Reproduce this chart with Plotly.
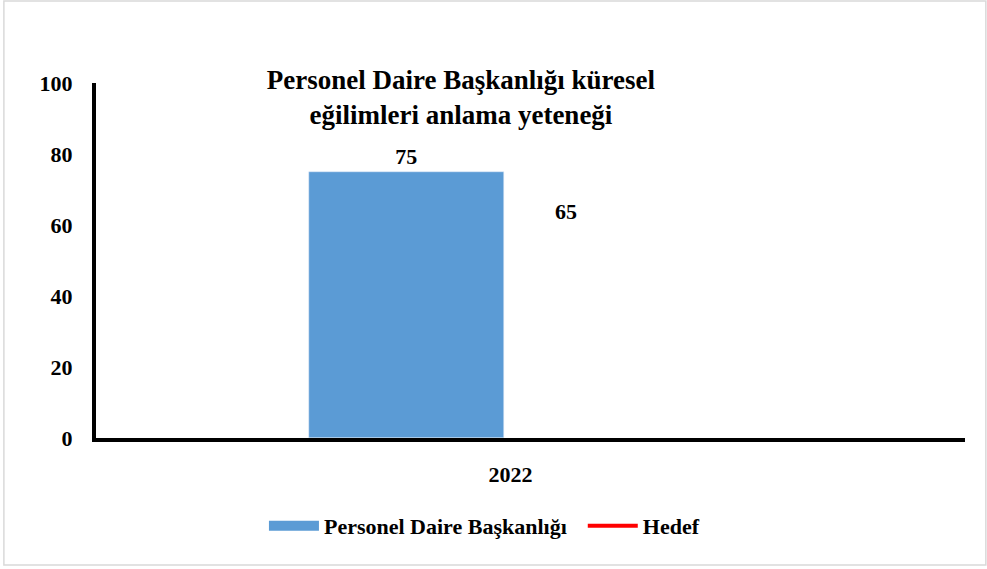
import plotly.graph_objects as go

years = ["2022"]
birim_values = [75]
hedef_values = [65]
title_text = "Personel Daire Başkanlığı küresel<br>eğilimleri anlama yeteneği"
y_ticks = [0, 20, 40, 60, 80, 100]

FONT = "Liberation Serif, Times New Roman, serif"
BLUE = "#5b9bd5"

fig = go.Figure()
fig.add_trace(go.Bar(
    x=years, y=birim_values, name="Personel Daire Başkanlığı",
    marker_color=BLUE, offset=-0.255, width=0.224,
    texttemplate="%{y}", textposition="outside",
    textfont=dict(family=FONT, size=22, color="black", weight="bold"),
    cliponaxis=False, showlegend=False,
))
# legend entry drawn as a wide block like the original
fig.add_trace(go.Scatter(
    x=years, y=birim_values, name="Personel Daire Başkanlığı  ", mode="lines",
    line=dict(color=BLUE, width=12), hoverinfo="skip",
))
fig.add_trace(go.Scatter(
    x=years, y=hedef_values, name="Hedef", mode="lines",
    line=dict(color="#ff0000", width=4),
))
for i, y in enumerate(hedef_values):
    fig.add_annotation(x=i, y=y, text=str(y), showarrow=False,
                       xshift=35, yshift=-4,
                       font=dict(family=FONT, size=22, color="black", weight="bold"))

# light frame around the whole chart
fig.add_shape(type="rect", xref="paper", yref="paper",
              x0=-0.106, x1=1.024, y0=-0.358, y1=1.231,
              line=dict(color="#d9d9d9", width=1.5))

fig.update_layout(
    width=987, height=569,
    margin=dict(l=96, r=22, t=83, b=131),
    paper_bgcolor="white", plot_bgcolor="white",
    font=dict(family=FONT, size=22, color="black", weight="bold"),
    title=dict(text=title_text, x=0.467, xanchor="center", y=0.843, yanchor="middle",
               font=dict(family=FONT, size=27, color="black", weight="bold")),
    showlegend=True,
    legend=dict(orientation="h", x=0.447, xanchor="center", y=-0.248, yanchor="middle",
                font=dict(family=FONT, size=22, color="black", weight="bold"),
                itemwidth=50, tracegroupgap=0),
    bargap=0,
)
fig.update_xaxes(type="category", range=[-0.5, 0.5], showline=True, linecolor="black",
                 linewidth=4, ticks="", showgrid=False, ticklabelstandoff=14,
                 ticklabelshift=-20,
                 tickfont=dict(family=FONT, size=22, color="black", weight="bold"))
fig.update_yaxes(range=[0, 100], tickvals=y_ticks, showline=True, linecolor="black",
                 linewidth=4, ticks="", showgrid=False, zeroline=False,
                 ticklabelstandoff=15,
                 tickfont=dict(family=FONT, size=22, color="black", weight="bold"))

fig.write_html("out.html", config={"displayModeBar": False},
               post_script="document.body.style.margin='0';")
